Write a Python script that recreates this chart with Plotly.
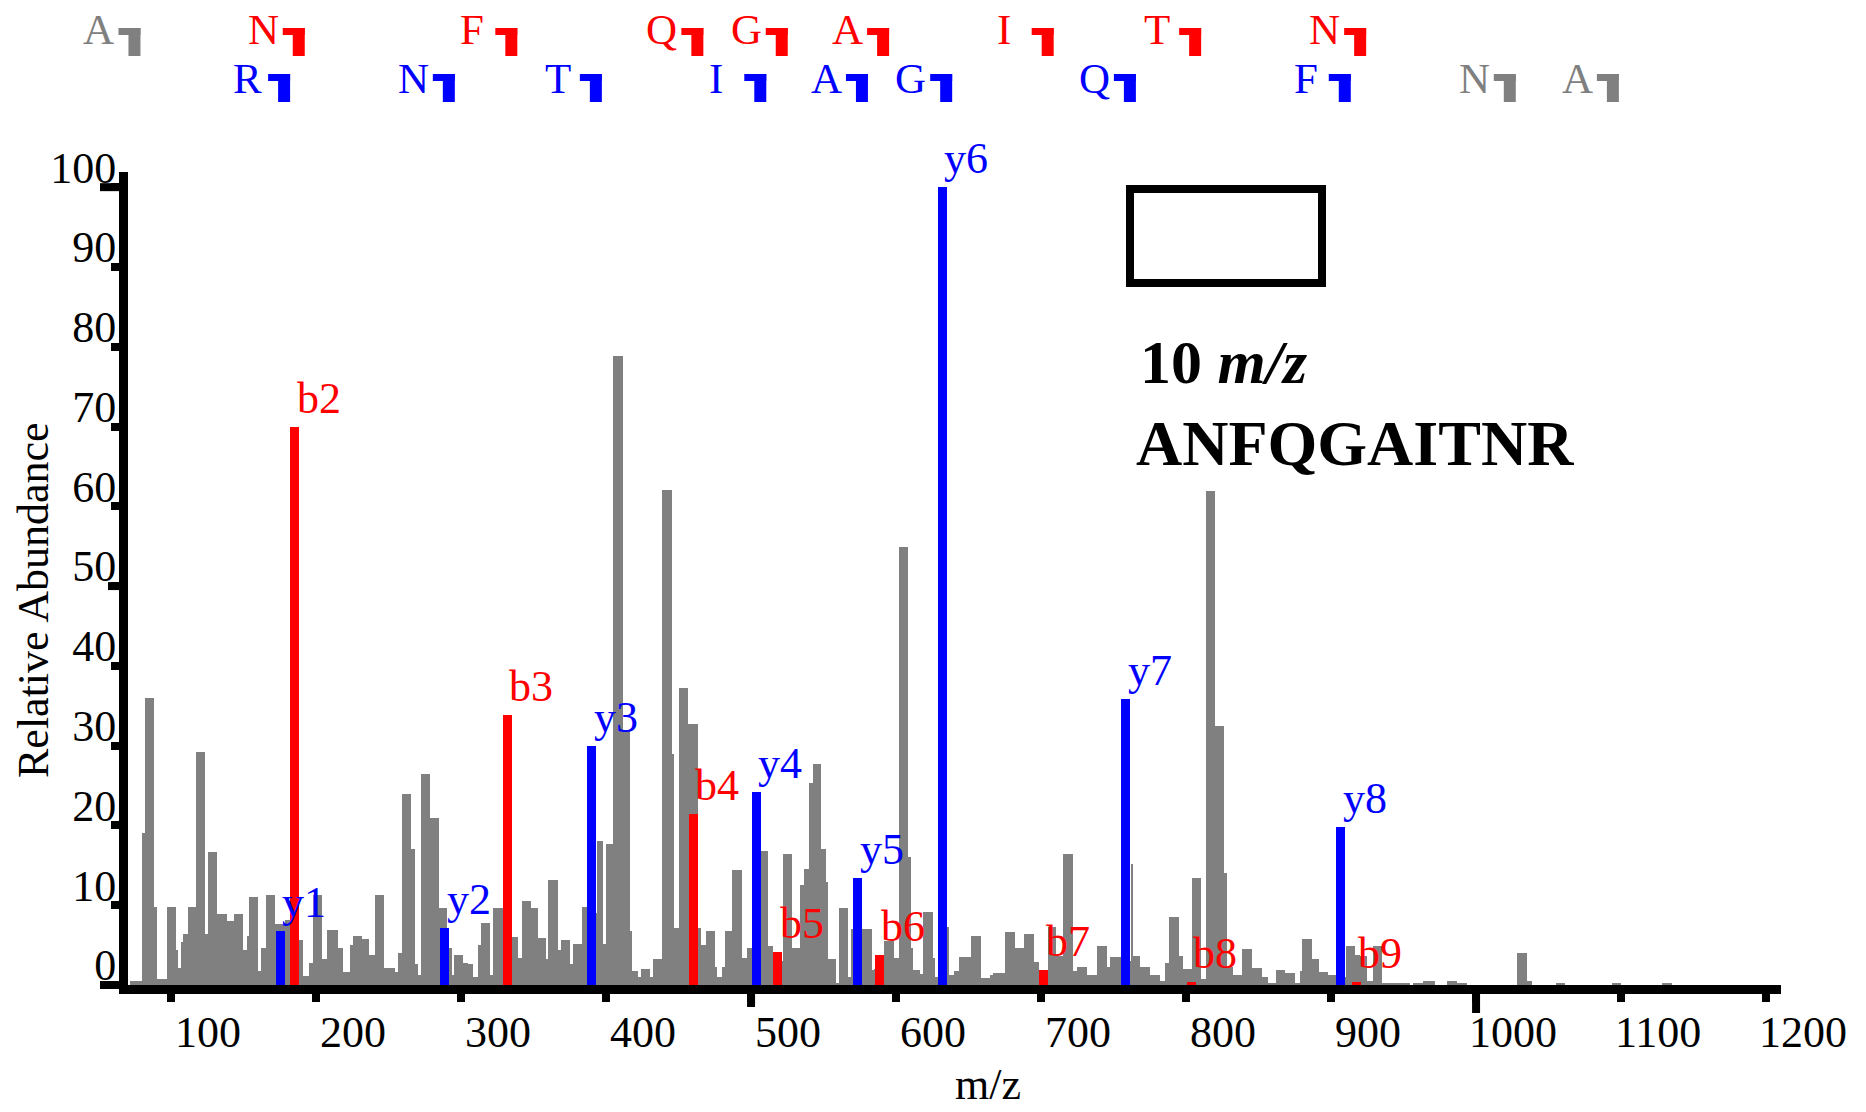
import plotly.graph_objects as go

FONT = "Liberation Serif"
RED = "#FF0000"
BLUE = "#0000FF"
GRAY = "#808080"
BLACK = "#000000"

# ---------------- data ----------------
x_tick_vals = [100, 200, 300, 400, 500, 600, 700, 800, 900, 1000, 1100, 1200]
x_tick_text = ["100", "200", "300", "400", "500", "600", "700", "800", "900", "1000", "1100", "1200"]
y_tick_vals = [0, 10, 20, 30, 40, 50, 60, 70, 80, 90, 100]
y_tick_text = ["0", "10", "20", "30", "40", "50", "60", "70", "80", "90", "100"]
x_long_ticks = [500, 1000]
y_long_ticks = [0, 50, 100]

peptide = "ANFQGAITNR"
scan_label = "10 m/z"

b_labels = ["b1", "b2", "b3", "b4", "b5", "b6", "b7", "b8", "b9"]
b_residues = ["A", "N", "F", "Q", "G", "A", "I", "T", "N"]
b_mz = [72.0, 185.3, 331.9, 460.2, 518.4, 588.3, 701.8, 803.5, 917.3]
b_int = [None, 70.0, 33.9, 21.4, 4.1, 3.7, 1.9, 0.4, 0.4]

y_labels = ["y1", "y2", "y3", "y4", "y5", "y6", "y7", "y8", "y9", "y10"]
y_residues = ["R", "N", "T", "I", "A", "G", "Q", "F", "N", "A"]
y_mz = [175.2, 288.8, 390.2, 503.6, 573.7, 631.8, 758.5, 906.7, 1020.5, 1091.6]
y_int = [6.8, 7.2, 30.0, 24.2, 13.4, 100.0, 35.8, 19.8, None, None]

# unassigned peaks: left edge of each step (m/z) and its relative abundance
gray_mz = [71.7, 79.8, 82.1, 88.3, 90.1, 97.0, 103.4, 105.0, 106.9, 108.5, 111.9, 117.2,
           123.4, 125.3, 131.5, 138.4, 143.7, 149.9, 152.2, 153.8, 160.2, 162.1, 165.5,
           171.7, 178.6, 182.1, 188.5, 191.3, 195.4, 197.7, 203.9, 207.4, 215.4, 218.8,
           223.4, 225.3, 231.5, 236.8, 240.7, 246.9, 254.5, 256.8, 259.1, 265.3, 268.3,
           270.1, 272.2, 278.6, 285.1, 290.1, 292.0, 293.6, 295.4, 301.6, 305.1, 308.5,
           312.0, 313.6, 320.0, 321.8, 328.7, 335.0, 339.5, 341.8, 348.3, 353.3, 358.6,
           360.2, 366.7, 368.7, 375.2, 377.0, 383.2, 386.7, 393.6, 398.2, 400.0, 404.6,
           411.5, 416.6, 418.2, 422.3, 423.9, 430.3, 432.2, 438.8, 445.3, 447.1, 450.6,
           456.8, 463.7, 465.3, 469.0, 475.2, 476.8, 480.2, 482.1, 487.1, 493.6, 497.0,
           500.5, 506.7, 511.9, 515.0, 521.8, 528.5, 533.8, 536.8, 540.2, 542.5, 548.3,
           551.7, 553.3, 558.6, 560.7, 567.1, 568.7, 570.6, 576.8, 583.7, 585.0, 591.7,
           598.6, 602.1, 608.5, 610.3, 611.9, 616.6, 618.8, 625.3, 626.9, 628.7, 635.0,
           636.8, 640.2, 643.4, 651.7, 658.4, 664.8, 667.1, 675.2, 682.1, 688.5, 695.2,
           698.6, 705.0, 710.3, 715.0, 721.9, 724.6, 731.5, 738.4, 745.3, 747.6, 755.2,
           761.8, 763.7, 768.3, 775.2, 782.1, 785.5, 788.5, 795.4, 798.2, 803.9, 810.1,
           813.6, 820.0, 826.4, 828.1, 832.2, 838.4, 845.3, 852.2, 856.8, 861.8, 868.3,
           875.2, 878.6, 880.2, 886.7, 891.9, 897.7, 903.4, 910.1, 916.6, 920.0, 924.6,
           928.7, 934.9, 943.0, 954.5, 956.8, 963.7, 971.7, 979.7, 986.6, 993.6, 1028.5,
           1035.0, 1038.4, 1055.2, 1061.4, 1093.6, 1099.8, 1128.5, 1135.0]
gray_int = [0.5, 19.0, 36.0, 9.8, 0.8, 9.8, 4.4, 2.1, 5.4, 6.4, 9.8, 29.2,
            6.4, 16.7, 8.9, 8.0, 8.9, 4.4, 6.2, 11.0, 1.7, 4.7, 11.3,
            7.6, 8.2, 8.0, 5.7, 1.1, 2.8, 11.3, 3.3, 6.9, 4.7, 1.6,
            5.0, 6.2, 5.8, 3.8, 11.3, 2.1, 1.6, 4.0, 24.0, 17.0, 2.6,
            1.3, 26.4, 20.9, 9.6, 5.0, 4.6, 1.3, 3.8, 2.7, 2.6, 1.0,
            5.0, 7.8, 1.3, 9.6, 5.0, 6.0, 3.4, 10.5, 9.6, 5.9, 3.3,
            13.1, 4.4, 5.6, 2.6, 5.2, 9.8, 9.0, 18.1, 5.2, 17.7, 78.8,
            32.0, 6.8, 1.8, 1.0, 2.0, 1.0, 3.3, 62.1, 29.0, 7.1, 37.2,
            32.7, 7.1, 5.0, 6.8, 2.3, 1.0, 2.3, 6.8, 14.4, 3.4, 4.7,
            4.0, 16.8, 4.9, 3.0, 16.4, 4.7, 12.5, 14.6, 25.3, 27.7, 17.0,
            12.9, 3.2, 0.3, 9.7, 1.0, 7.0, 7.0, 7.0, 1.9, 2.0, 5.5,
            3.4, 54.9, 16.1, 4.7, 1.9, 1.4, 9.1, 3.4, 1.0, 1.0, 7.3,
            1.2, 1.8, 3.5, 6.1, 0.9, 1.2, 1.5, 6.7, 4.6, 6.4, 2.9,
            1.0, 7.3, 3.6, 16.4, 1.8, 2.2, 1.2, 4.9, 2.2, 3.5, 3.0,
            15.2, 3.6, 2.2, 1.2, 0.5, 2.7, 8.5, 3.6, 2.0, 13.4, 0.7,
            61.9, 32.5, 14.0, 2.2, 1.2, 4.5, 2.1, 1.0, 0.3, 1.9, 1.5,
            0.3, 1.8, 5.8, 3.2, 1.6, 1.2, 1.0, 4.9, 3.8, 3.6, 0.5,
            4.9, 0.3, 0.2, 0.0, 0.2, 0.5, 0.0, 0.5, 0.2, 0.0, 4.0,
            0.5, 0.0, 0.2, 0.0, 0.2, 0.0, 0.2, 0.0]
assert len(gray_mz) == len(gray_int)

# ---------------- geometry / style ----------------
W, H = 1866, 1112
ML, MR, MT, MB = 128, 85, 172, 127
PW, PH = W - ML - MR, H - MT - MB
XMIN, XMAX = 70.3, 1210.3
YMIN, YMAX = 0.0, 101.9
AXW = 9          # axis line width
TKW = 8          # tick width
ION_BAR_W = 6.2  # m/z


def px_to_paper_x(px):
    return (px - ML) / PW


def px_to_paper_y(py):
    return (H - MB - py) / PH


def mz_to_paper(mz):
    return (mz - XMIN) / (XMAX - XMIN)


fig = go.Figure()

# gray unassigned spectrum (contiguous steps)
fig.add_trace(go.Bar(
    x=gray_mz[:-1], y=gray_int[:-1],
    width=[gray_mz[i + 1] - gray_mz[i] for i in range(len(gray_mz) - 1)],
    offset=0, marker=dict(color=GRAY, line=dict(width=0)),
    hoverinfo="x+y", name="unassigned"))

# y ions (blue) and b ions (red)
yo = [i for i, v in enumerate(y_int) if v is not None]
fig.add_trace(go.Bar(
    x=[y_mz[i] for i in yo], y=[y_int[i] for i in yo], width=ION_BAR_W,
    marker=dict(color=BLUE, line=dict(width=0)), name="y ions"))
bo = [i for i, v in enumerate(b_int) if v is not None]
fig.add_trace(go.Bar(
    x=[b_mz[i] for i in bo], y=[b_int[i] for i in bo], width=ION_BAR_W,
    marker=dict(color=RED, line=dict(width=0)), name="b ions"))

annotations = []
shapes = []

# peak labels
for idx in yo:
    annotations.append(dict(x=y_mz[idx], y=y_int[idx], xref="x", yref="y", text=y_labels[idx],
                            showarrow=False, xanchor="left", yanchor="bottom", xshift=0, yshift=2,
                            font=dict(family=FONT, size=44, color=BLUE)))
for idx in bo:
    annotations.append(dict(x=b_mz[idx], y=b_int[idx], xref="x", yref="y", text=b_labels[idx],
                            showarrow=False, xanchor="left", yanchor="bottom", xshift=0, yshift=2,
                            font=dict(family=FONT, size=44, color=RED)))

# fragment ladder on top
rows = [(b_mz, b_residues, b_int, RED, 30, 28),
        (y_mz, y_residues, y_int, BLUE, 78, 74)]
for mzs, res, ints, col, letter_py, bracket_py in rows:
    for mz, r, v in zip(mzs, res, ints):
        c = col if v is not None else GRAY
        annotations.append(dict(x=mz, y=px_to_paper_y(letter_py), xref="x", yref="paper", text=r,
                                showarrow=False, xanchor="left", yanchor="middle", xshift=-49,
                                font=dict(family=FONT, size=43, color=c)))
        for (x0, x1, y1) in [(-12, 10, -7), (-2, 10, -28)]:
            shapes.append(dict(type="rect", xref="paper", yref="paper",
                               xsizemode="pixel", ysizemode="pixel",
                               xanchor=mz_to_paper(mz), yanchor=px_to_paper_y(bracket_py),
                               x0=x0, x1=x1, y0=0, y1=y1,
                               fillcolor=c, line=dict(width=0)))

# longer tick marks
for v in y_long_ticks:
    L = 19 if v in (0, 100) else 11
    shapes.append(dict(type="line", xref="paper", yref="paper", xsizemode="pixel", xanchor=0,
                       x0=-AXW, x1=-AXW - L, y0=(v - YMIN) / (YMAX - YMIN), y1=(v - YMIN) / (YMAX - YMIN),
                       line=dict(color=BLACK, width=TKW)))
for v in x_long_ticks:
    L = 13 if v == 500 else 19
    shapes.append(dict(type="line", xref="paper", yref="paper", ysizemode="pixel", yanchor=0,
                       x0=mz_to_paper(v), x1=mz_to_paper(v), y0=-AXW, y1=-AXW - L,
                       line=dict(color=BLACK, width=TKW)))

# empty legend box
shapes.append(dict(type="rect", xref="paper", yref="paper",
                   x0=px_to_paper_x(1130), x1=px_to_paper_x(1322),
                   y0=px_to_paper_y(189), y1=px_to_paper_y(283),
                   line=dict(color=BLACK, width=8), fillcolor="rgba(0,0,0,0)"))

annotations.append(dict(x=px_to_paper_x(1138), y=px_to_paper_y(362), xref="paper", yref="paper",
                        text="<b>10 <i>m/z</i></b>", showarrow=False, xanchor="left", yanchor="middle",
                        font=dict(family=FONT, size=62, color=BLACK)))
annotations.append(dict(x=px_to_paper_x(1134), y=px_to_paper_y(443), xref="paper", yref="paper",
                        text="<b>" + peptide + "</b>", showarrow=False, xanchor="left", yanchor="middle",
                        font=dict(family=FONT, size=64, color=BLACK)))

# axis titles
annotations.append(dict(x=px_to_paper_x(33), y=px_to_paper_y(600), xref="paper", yref="paper",
                        text="Relative Abundance", textangle=-90, showarrow=False,
                        xanchor="center", yanchor="middle", font=dict(family=FONT, size=44, color=BLACK)))
annotations.append(dict(x=px_to_paper_x(988), y=px_to_paper_y(1111), xref="paper", yref="paper",
                        text="m/z", showarrow=False, xanchor="center", yanchor="bottom",
                        font=dict(family=FONT, size=44, color=BLACK)))

fig.update_layout(
    width=W, height=H, margin=dict(l=ML, r=MR, t=MT, b=MB, pad=0),
    paper_bgcolor="white", plot_bgcolor="white",
    barmode="overlay", bargap=0, showlegend=False,
    font=dict(family=FONT, color=BLACK),
    annotations=annotations, shapes=shapes,
    xaxis=dict(range=[XMIN, XMAX], tickmode="array", tickvals=x_tick_vals, ticktext=x_tick_text,
               ticks="outside", ticklen=8, tickwidth=TKW, tickcolor=BLACK,
               showline=True, linewidth=AXW, linecolor=BLACK, showgrid=False, zeroline=False,
               ticklabelshift=37, ticklabelstandoff=-8,
               tickfont=dict(family=FONT, size=44, color=BLACK)),
    yaxis=dict(range=[YMIN, YMAX], tickmode="array", tickvals=y_tick_vals, ticktext=y_tick_text,
               ticks="outside", ticklen=8, tickwidth=TKW, tickcolor=BLACK,
               showline=True, linewidth=AXW, linecolor=BLACK, showgrid=False, zeroline=False,
               ticklabelshift=-20, ticklabelstandoff=-14,
               tickfont=dict(family=FONT, size=44, color=BLACK)),
)

fig.write_html("out.html")
